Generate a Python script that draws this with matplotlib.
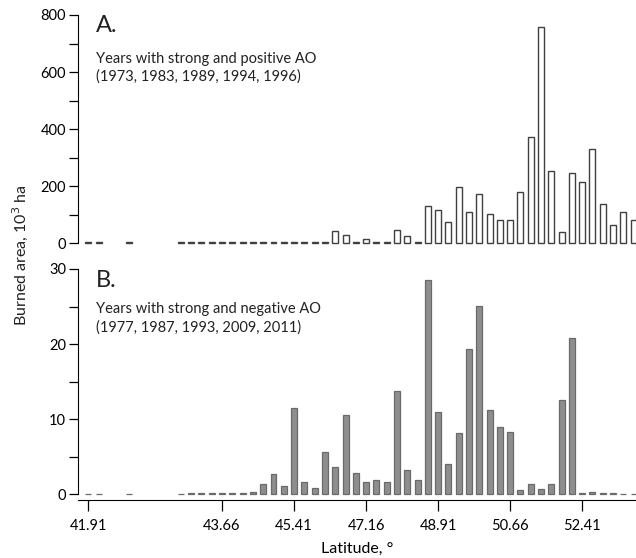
import numpy as np
import matplotlib
matplotlib.use('Agg')
import matplotlib.pyplot as plt

plt.rcParams['font.family'] = ['Lato', 'DejaVu Sans']

nan = np.nan

# bar slots (category index along the latitude axis)
slots = np.arange(54)

# panel A: years with strong and positive AO, 10^3 ha
pos_ao = [3, 3, nan, nan, 3, nan, nan, nan, nan, 3,
          3, 3, 3, 3, 3, 3, 3, 3, 3, 3,
          3, 3, 3, 3, 43, 28, 3, 16, 5, 5,
          46, 24, 5, 132, 116, 74, 196, 110, 174, 102,
          83, 82, 180, 373, 759, 252, 40, 245, 215, 332,
          137, 65, 110, 82]

# panel B: years with strong and negative AO, 10^3 ha
neg_ao = [0.08, 0.08, nan, nan, 0.08, nan, nan, nan, nan, 0.08,
          0.12, 0.2, 0.2, 0.2, 0.2, 0.2, 0.3, 1.35, 2.7, 1.1,
          11.5, 1.6, 0.85, 5.6, 3.6, 10.6, 2.9, 1.7, 1.95, 1.65,
          13.8, 3.2, 1.9, 28.6, 11.0, 4.1, 8.2, 19.3, 25.1, 11.2,
          9.0, 8.3, 0.6, 1.4, 0.7, 1.4, 12.6, 20.8, 0.12, 0.3,
          0.12, 0.2, 0.08, 0.08]

tick_slots = [0, 13, 20, 27, 34, 41, 48]
tick_labels = ['41.91', '43.66', '45.41', '47.16', '48.91', '50.66', '52.41']

W, H = 636, 558
fig = plt.figure(figsize=(W / 100, H / 100), dpi=100)


def fy(px):
    return 1 - px / H


left = 78 / W
ax1 = fig.add_axes([left, fy(243.3), 1 - left, fy(15) - fy(243.3)])
ax2 = fig.add_axes([left, fy(494.3), 1 - left, fy(269) - fy(494.3)])

pos_ao = np.array(pos_ao, dtype=float)
neg_ao = np.array(neg_ao, dtype=float)
m1 = ~np.isnan(pos_ao)
m2 = ~np.isnan(neg_ao)

ax1.bar(slots[m1], pos_ao[m1], width=0.58, color='white', edgecolor='#404040',
        linewidth=1.0, clip_on=False)
ax2.bar(slots[m2], neg_ao[m2], width=0.58, color='#8e8e8e', edgecolor='#6a6a6a',
        linewidth=0.9, clip_on=False)

for ax in (ax1, ax2):
    ax.set_xlim(-1.0, 53.23)
    ax.spines['top'].set_visible(False)
    ax.spines['right'].set_visible(False)
    ax.tick_params(axis='y', direction='out', length=6.5, width=0.9, labelsize=10.5, pad=2)
    ax.tick_params(axis='y', which='minor', direction='out', length=6.5, width=0.9)

ax1.set_ylim(0, 800)
ax1.set_yticks([0, 200, 400, 600, 800])
ax1.set_yticks([100, 300, 500, 700], minor=True)
ax1.spines['bottom'].set_visible(False)
ax1.set_xticks([])

ax2.set_ylim(0, 30)
ax2.set_yticks([0, 10, 20, 30])
ax2.set_yticks([5, 15, 25], minor=True)
ax2.spines['bottom'].set_position(('outward', 4))
ax2.set_xticks(tick_slots)
ax2.set_xticklabels(tick_labels)
ax2.tick_params(axis='x', direction='out', length=8, width=0.9, labelsize=10.5, pad=6)
ax2.set_xlabel('Latitude, °', fontsize=11.5, labelpad=6)

fig.text(96 / W, fy(32.3), 'A.', fontsize=17, va='baseline', color='#222222')
fig.text(96 / W, fy(63), 'Years with strong and positive AO', fontsize=10.5, va='baseline', color='#222222')
fig.text(96 / W, fy(81), '(1973, 1983, 1989, 1994, 1996)', fontsize=10.5, va='baseline', color='#222222')

fig.text(96 / W, fy(287.3), 'B.', fontsize=17, va='baseline', color='#222222')
fig.text(96 / W, fy(313.3), 'Years with strong and negative AO', fontsize=10.5, va='baseline', color='#222222')
fig.text(96 / W, fy(331.3), '(1977, 1987, 1993, 2009, 2011)', fontsize=10.5, va='baseline', color='#222222')

fig.text(20 / W, fy(255), r'Burned area, 10$^3$ ha', fontsize=11.5, rotation=90,
         ha='center', va='center', color='#222222')

fig.savefig('out.png', dpi=100)
print('done')
